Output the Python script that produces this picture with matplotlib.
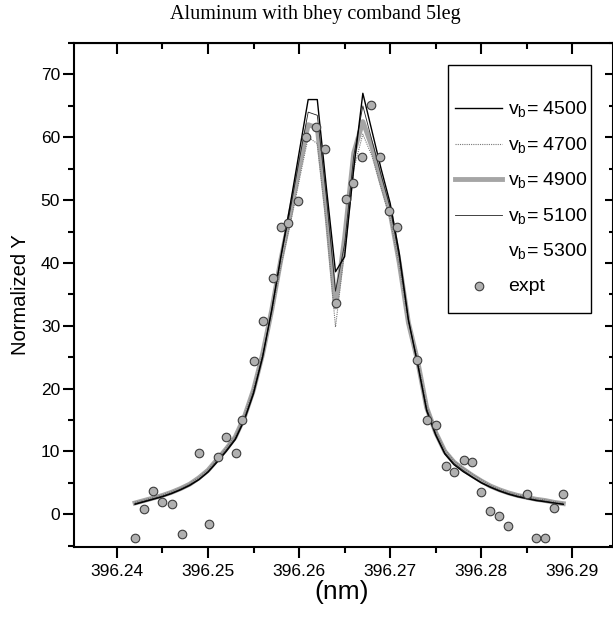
import matplotlib
matplotlib.use("Agg")
import matplotlib.pyplot as plt
from matplotlib.ticker import MultipleLocator
from matplotlib.patches import Rectangle

plt.rcParams['font.family'] = ['Liberation Sans', 'DejaVu Sans']
plt.rcParams['mathtext.fontset'] = 'custom'
plt.rcParams['mathtext.rm'] = 'Liberation Sans'

# model wavelengths (nm)
x_model = [396.242, 396.243, 396.244, 396.245, 396.246, 396.247, 396.248, 396.249,
           396.250, 396.251, 396.252, 396.253, 396.254, 396.255, 396.256, 396.257,
           396.258, 396.259, 396.260, 396.261, 396.262, 396.263, 396.264, 396.265,
           396.266, 396.267, 396.268, 396.269, 396.270, 396.271, 396.272, 396.273,
           396.274, 396.275, 396.276, 396.277, 396.278, 396.279, 396.280, 396.281,
           396.282, 396.283, 396.284, 396.285, 396.286, 396.287, 396.288, 396.289]

v4500 = [1.6, 2.0, 2.4, 2.8, 3.3, 3.9, 4.6, 5.5, 6.7, 8.3,
         10.0, 11.9, 15.0, 19.2, 25.0, 32.5, 41.0, 49.0, 57.5, 66.0,
         66.0, 52.0, 38.6, 41.0, 55.0, 67.0, 61.0, 55.0, 49.5, 41.5,
         31.0, 24.0, 16.5, 12.6, 9.6, 7.9, 6.8, 5.9, 5.0, 4.3,
         3.7, 3.2, 2.8, 2.5, 2.2, 2.0, 1.8, 1.6]
v4700 = [1.9, 2.3, 2.7, 3.1, 3.6, 4.2, 4.9, 5.9, 7.1, 8.8,
         10.6, 12.5, 15.7, 20.0, 25.5, 32.0, 39.5, 46.0, 53.0, 60.0,
         59.0, 46.0, 29.8, 42.0, 55.0, 60.5, 57.0, 52.0, 47.0, 39.5,
         30.5, 24.8, 17.3, 13.3, 10.3, 8.5, 7.4, 6.4, 5.5, 4.6,
         4.0, 3.5, 3.1, 2.8, 2.5, 2.3, 2.0, 1.8]
v4900 = [1.8, 2.2, 2.6, 3.0, 3.5, 4.1, 4.8, 5.8, 7.0, 8.7,
         10.4, 12.3, 15.5, 19.8, 25.5, 32.5, 40.5, 47.5, 55.0, 62.0,
         61.5, 48.5, 33.0, 44.0, 57.5, 62.5, 58.5, 53.0, 48.0, 40.0,
         30.5, 24.5, 17.0, 13.0, 10.0, 8.3, 7.2, 6.2, 5.3, 4.5,
         3.9, 3.4, 3.0, 2.7, 2.4, 2.2, 1.9, 1.7]
v5100 = [1.7, 2.1, 2.5, 2.9, 3.4, 4.0, 4.7, 5.6, 6.8, 8.5,
         10.2, 12.1, 15.2, 19.5, 25.2, 32.5, 40.8, 48.2, 56.2, 64.0,
         63.5, 50.5, 35.5, 43.0, 57.0, 65.0, 59.5, 54.0, 48.8, 40.8,
         30.8, 24.2, 16.8, 12.8, 9.8, 8.1, 7.0, 6.0, 5.1, 4.4,
         3.8, 3.3, 2.9, 2.6, 2.3, 2.1, 1.8, 1.6]
v5300 = [1.8, 2.2, 2.6, 3.0, 3.5, 4.1, 4.8, 5.8, 7.0, 8.7,
         10.4, 12.4, 15.6, 19.9, 25.5, 32.2, 40.0, 46.8, 54.0, 61.0,
         60.5, 47.0, 31.5, 43.0, 56.0, 61.5, 57.8, 52.5, 47.5, 39.8,
         30.5, 24.6, 17.1, 13.1, 10.1, 8.4, 7.3, 6.3, 5.4, 4.5,
         3.9, 3.4, 3.0, 2.7, 2.4, 2.2, 1.9, 1.7]

# experiment
x_expt = [396.2420, 396.2430, 396.2440, 396.2450, 396.2461, 396.2471, 396.2490,
          396.2501, 396.2511, 396.2520, 396.2531, 396.2537, 396.2550, 396.2560,
          396.2571, 396.2580, 396.2588, 396.2599, 396.2608, 396.2619, 396.2629,
          396.2640, 396.2651, 396.2659, 396.2669, 396.2679, 396.2689, 396.2699,
          396.2707, 396.2729, 396.2740, 396.2750, 396.2761, 396.2770, 396.2781,
          396.2790, 396.2800, 396.2810, 396.2819, 396.2829, 396.2850, 396.2860,
          396.2870, 396.2880, 396.2890]
y_expt = [-3.8, 0.8, 3.7, 1.9, 1.6, -3.2, 9.7,
          -1.6, 9.1, 12.3, 9.7, 15.0, 24.4, 30.8,
          37.6, 45.8, 46.4, 49.8, 60.1, 61.7, 58.2,
          33.7, 50.2, 52.8, 56.9, 65.2, 56.8, 48.2,
          45.8, 24.6, 15.0, 14.2, 7.7, 6.7, 8.6,
          8.3, 3.5, 0.6, -0.3, -1.8, 3.3, -3.7,
          -3.7, 1.0, 3.2]

xticks = [396.24, 396.25, 396.26, 396.27, 396.28, 396.29]
xtick_labels = ['396.24', '396.25', '396.26', '396.27', '396.28', '396.29']
yticks = [0, 10, 20, 30, 40, 50, 60, 70]

fig = plt.figure(figsize=(6.13, 6.37), dpi=100)
ax = fig.add_axes([74/613, 1-547/637, (612.5-74)/613, (547-43)/637])

ax.plot(x_model, v5300, color='white', lw=0.8, zorder=1.5, label=r'v$_\mathregular{b}$= 5300')
ax.plot(x_model, v4900, color='#a5a5a5', lw=3.5, zorder=2, label=r'v$_\mathregular{b}$= 4900')
ax.plot(x_model, v4700, color='#777777', lw=0.8, ls=(0, (1, 1)), zorder=3, label=r'v$_\mathregular{b}$= 4700')
ax.plot(x_model, v5100, color='#222222', lw=0.6, zorder=3, label=r'v$_\mathregular{b}$= 5100')
ax.plot(x_model, v4500, color='black', lw=1.0, zorder=4, label=r'v$_\mathregular{b}$= 4500')
ax.scatter(x_expt, y_expt, s=38, facecolor='#b0b0b0', edgecolor='#3c3c3c', lw=0.8, zorder=5, label='expt')

ax.set_xlim(396.2353, 396.2944)
ax.set_ylim(-5.2, 75)

ax.set_xticks(xticks)
ax.set_xticklabels(xtick_labels)
ax.set_yticks(yticks)
ax.xaxis.set_minor_locator(MultipleLocator(0.005))
ax.yaxis.set_minor_locator(MultipleLocator(5))
ax.tick_params(which='major', direction='out', length=8, width=1.5, labelsize=12.5, pad=4)
ax.tick_params(which='minor', direction='out', length=4, width=1.5)
ax.tick_params(axis='y', pad=2)
for s in ax.spines.values():
    s.set_linewidth(1.5)

top = ax.secondary_xaxis('top')
top.set_xticks(xticks)
top.xaxis.set_minor_locator(MultipleLocator(0.005))
top.tick_params(which='major', direction='in', length=8, width=1.5, labeltop=False)
top.tick_params(which='minor', direction='in', length=4, width=1.5)
right = ax.secondary_yaxis('right')
right.set_yticks(yticks)
right.yaxis.set_minor_locator(MultipleLocator(5))
right.tick_params(which='major', direction='in', length=6, width=1.5, labelright=False)
right.tick_params(which='minor', direction='in', length=3, width=1.5)

# legend frame drawn separately so the padding can differ from the entries
ax.add_patch(Rectangle((0.695, 0.464), 0.266, 0.492, transform=ax.transAxes,
                       facecolor='white', edgecolor='black', lw=1.0, zorder=6))
handles, labels = ax.get_legend_handles_labels()
order = ['4500', '4700', '4900', '5100', '5300', 'expt']
idx = [next(i for i, l in enumerate(labels) if k in l) for k in order]
leg = ax.legend([handles[i] for i in idx], [labels[i] for i in idx],
                loc='upper left', bbox_to_anchor=(0.708, 0.887), fontsize=14,
                frameon=False, handlelength=2.4, handletextpad=0.3,
                labelspacing=0.78, borderpad=0, borderaxespad=0)
leg.set_zorder(7)

ax.set_ylabel('Normalized Y', fontsize=14.5, labelpad=8)
fig.text(0.558, 1-592/637, '(nm)', fontsize=19, ha='center', va='center')
fig.text(170/613, 1-15/637, 'Aluminum with bhey comband 5leg', fontsize=14.5,
         family='Liberation Serif', ha='left', va='center')

fig.savefig('out.png', dpi=100)
